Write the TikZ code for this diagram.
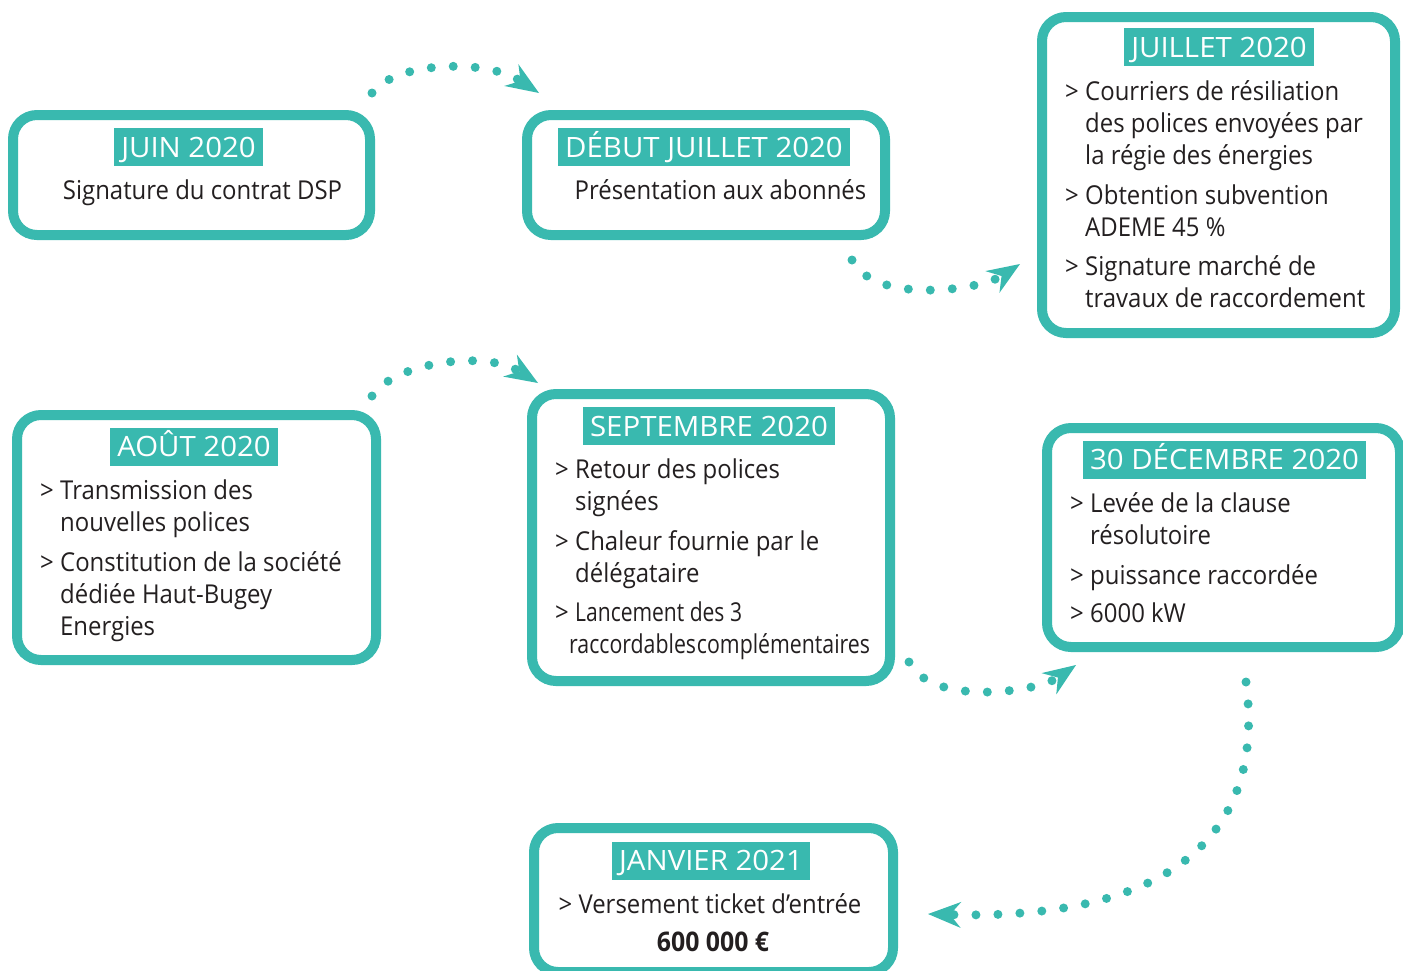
\documentclass[tikz,border=0pt]{standalone}
\usepackage{fontspec}
\setmainfont{Open Sans}[FakeStretch=0.92]
\newfontfamily\titlefont{Open Sans}[FakeStretch=1.05]
\usepackage{graphicx}
\usetikzlibrary{arrows.meta}
\definecolor{teal1}{RGB}{57,185,175}
\definecolor{ink}{RGB}{35,31,32}
\newcommand{\bl}{\makebox[20pt][l]{>}}
\newcommand{\ind}{\hspace*{20pt}}
\begin{document}
\begin{tikzpicture}[x=1pt,y=-1pt,
  box/.style={draw=teal1, fill=white, line width=10pt, rounded corners=24pt, inner sep=0pt},
  title/.style={fill=teal1, text=white, font=\titlefont\fontsize{28}{32}\selectfont, inner xsep=7pt, inner ysep=0pt, text height=20pt, text depth=0pt, minimum height=38pt},
  body/.style={text=ink, font=\fontsize{26}{32}\selectfont, align=left, inner sep=0pt, anchor=base west},
  conn/.style={draw=teal1, line width=9pt, line cap=round, dash pattern=on 0pt off 22pt, -{Stealth[length=33pt,width=26pt,inset=11pt,line width=0pt]}}
]
\useasboundingbox (0,0) rectangle (1403,970);
% boxes
\node[box, minimum width=357pt, minimum height=120pt] (b1) at (191.5,175) {};
\node[box, minimum width=358pt, minimum height=120pt] (b2) at (706,175) {};
\node[box, minimum width=353pt, minimum height=316pt] (b3) at (1218.5,175) {};
\node[box, minimum width=359pt, minimum height=245pt] (b4) at (196.5,537.5) {};
\node[box, minimum width=358pt, minimum height=287pt] (b5) at (711,537.5) {};
\node[box, minimum width=353pt, minimum height=219pt] (b6) at (1223.5,537.5) {};
\node[box, minimum width=359pt, minimum height=144pt] (b7) at (713.5,900) {};
% titles
\node[title] (t1) at (188.5,147) {JUIN 2020};
\node[title] (t2) at (704,147) {DÉBUT JUILLET 2020};
\node[title] (t3) at (1219,47) {JUILLET 2020};
\node[title] (t4) at (194,446.5) {AOÛT 2020};
\node[title] (t5) at (709,426) {SEPTEMBRE 2020};
\node[title] (t6) at (1224.5,459.5) {30 DÉCEMBRE 2020};
\node[title] (t7) at (711,860.5) {JANVIER 2021};
% bodies (anchor = baseline of last line)
\node[body, anchor=base] (x1) at (202.5,199) {Signature du contrat DSP};
\node[body, anchor=base] (x2) at (720.5,199) {Présentation aux abonnés};
\node[body] (x3) at (1065,307) {\bl Courriers de résiliation\\ \ind des polices envoyées par\\ \ind la régie des énergies\\[8pt]
  \bl Obtention subvention\\ \ind ADEME 45 \%\\[7pt] \bl Signature marché de\\ \ind travaux de raccordement};
\node[body] (x4) at (40,635) {\bl Transmission des\\ \ind nouvelles polices\\[8pt] \bl Constitution de la société\\ \ind dédiée Haut-Bugey\\ \ind Energies};
\node[body] (x5) at (555,653) {\bl Retour des polices\\ \ind signées\\[8pt] \bl Chaleur fournie par le\\ \ind délégataire\\[7pt]
  \bl\scalebox{0.88}[1]{Lancement des 3}\\ \hspace*{14pt}\scalebox{0.89}[1]{raccordables\hspace{1pt}complémentaires}};
\node[body] (x6) at (1070,622) {\bl Levée de la clause\\ \ind résolutoire\\[8pt] \bl puissance raccordée\\[6pt] \bl 6000 kW};
\node[body, anchor=base] (x7) at (710,913) {> Versement ticket d’entrée};
\node[body, anchor=base, font=\fontsize{27}{32}\selectfont\bfseries] (x8) at (713,951) {600 000 €};
% connectors
\coordinate (a1s) at (372,93);  \coordinate (a1e) at (539,93);
\coordinate (a2s) at (852,260); \coordinate (a2e) at (1020,264);
\coordinate (a3s) at (372,396); \coordinate (a3e) at (538,383);
\coordinate (a4s) at (909,662); \coordinate (a4e) at (1076,665);
\coordinate (a5s) at (1246,682); \coordinate (a5e) at (928,914);
\draw[conn] (a1s) .. controls (395,62) and (485,58) .. (a1e);
\draw[conn] (a2s) .. controls (875,305) and (980,290) .. (a2e);
\draw[conn] (a3s) .. controls (395,362) and (485,350) .. (a3e);
\draw[conn] (a4s) .. controls (932,707) and (1037,692) .. (a4e);
\draw[conn] (a5s) .. controls (1268,850) and (1150,920) .. (a5e);
\end{tikzpicture}
\end{document}
